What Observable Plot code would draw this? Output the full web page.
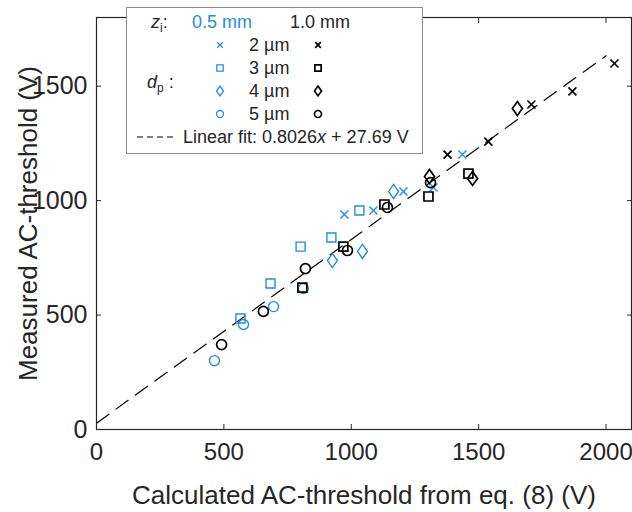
<!DOCTYPE html>
<html><head><meta charset="utf-8">
<script src="https://cdn.jsdelivr.net/npm/d3@7"></script>
<script src="https://cdn.jsdelivr.net/npm/@observablehq/plot@0.6"></script>
<style>body{margin:0;background:#fff} #chart{width:632px;height:512px}</style>
</head><body><div id="chart"></div><script>
// ---- data (calculated AC-threshold, measured AC-threshold), in V ----
const zLabels = ["0.5 mm", "1.0 mm"];
const dpLabels = ["2 µm", "3 µm", "4 µm", "5 µm"];

// z_i = 0.5 mm
const z05_d2_calc = [973, 1087, 1205, 1323, 1436];
const z05_d2_meas = [939, 957, 1040, 1057, 1201];
const z05_d3_calc = [565, 683, 801, 922, 1032];
const z05_d3_meas = [485, 638, 799, 839, 957];
const z05_d4_calc = [926, 1044, 1166];
const z05_d4_meas = [738, 778, 1040];
const z05_d5_calc = [463, 577, 695, 812];
const z05_d5_meas = [301, 459, 537, 616];
// z_i = 1.0 mm
const z10_d2_calc = [1378, 1538, 1707, 1868, 2033];
const z10_d2_meas = [1201, 1258, 1420, 1477, 1599];
const z10_d3_calc = [808, 969, 1130, 1303, 1460];
const z10_d3_meas = [620, 799, 983, 1018, 1118];
const z10_d4_calc = [1307, 1476, 1652];
const z10_d4_meas = [1105, 1097, 1402];
const z10_d5_calc = [491, 655, 820, 985, 1142, 1311];
const z10_d5_meas = [371, 516, 703, 782, 970, 1079];

// linear fit
const fitSlope = 0.8026;
const fitIntercept = 27.69;
const fitRange = [0, 2000];

const xTicks = [0, 500, 1000, 1500, 2000];
const yTicks = [0, 500, 1000, 1500];
const xLabel = "Calculated AC-threshold from eq. (8) (V)";
const yLabel = "Measured AC-threshold (V)";

// ---- styles ----
const FONT = "'Liberation Sans', Arial, sans-serif";
const TICKFONT = "'Liberation Sans Narrow', 'Liberation Sans', sans-serif";
const BLUE = "#1f8fdc";
const INK = "#262626";

const sym = {
  times: {draw(c, s) {const r = Math.sqrt(s / Math.PI) * 0.8; c.moveTo(-r, -r); c.lineTo(r, r); c.moveTo(-r, r); c.lineTo(r, -r);}},
  square: {draw(c, s) {const r = Math.sqrt(s / Math.PI) * 0.9; c.rect(-r, -r, 2 * r, 2 * r);}},
  diamond: {draw(c, s) {const r = Math.sqrt(s / Math.PI); c.moveTo(0, -1.4 * r); c.lineTo(r, 0); c.lineTo(0, 1.4 * r); c.lineTo(-r, 0); c.closePath();}},
  circle: {draw(c, s) {const r = Math.sqrt(s / Math.PI); c.moveTo(r, 0); c.arc(0, 0, r, 0, 2 * Math.PI);}}
};
const symOrder = [sym.times, sym.square, sym.diamond, sym.circle];

const series = [
  [z05_d2_calc, z05_d2_meas, 0, 0], [z05_d3_calc, z05_d3_meas, 0, 1],
  [z05_d4_calc, z05_d4_meas, 0, 2], [z05_d5_calc, z05_d5_meas, 0, 3],
  [z10_d2_calc, z10_d2_meas, 1, 0], [z10_d3_calc, z10_d3_meas, 1, 1],
  [z10_d4_calc, z10_d4_meas, 1, 2], [z10_d5_calc, z10_d5_meas, 1, 3]
];
const colors = [BLUE, "#000000"];

const dots = series.map(([cx, my, zi, di]) =>
  Plot.dot(cx.map((c, i) => ({calc: c, meas: my[i]})), {
    x: "calc", y: "meas", r: 5, symbol: symOrder[di], fill: "none",
    stroke: colors[zi], strokeWidth: zi === 0 ? 1.4 : 1.7
  })
);

const fitPts = fitRange.map(x => ({x, y: fitSlope * x + fitIntercept}));
const fmt = d => String(d);

const chart = Plot.plot({
  width: 632, height: 512,
  marginLeft: 96, marginRight: 1, marginTop: 17, marginBottom: 83,
  style: {fontFamily: FONT, fontSize: "22px", color: INK, background: "white"},
  x: {domain: [0, 2100]},
  y: {domain: [0, 1800]},
  marks: [
    Plot.line(fitPts, {x: "x", y: "y", stroke: "#000", strokeWidth: 1.2, strokeDasharray: "15,9"}),
    ...dots,
    Plot.frame({stroke: INK, strokeWidth: 1.2}),
    Plot.axisX(xTicks, {anchor: "bottom", tickSize: -5, fill: "none", label: null, stroke: INK}),
    Plot.axisX(xTicks, {anchor: "top", tickSize: -5, fill: "none", label: null, stroke: INK}),
    Plot.axisY(yTicks, {anchor: "left", tickSize: -5, fill: "none", label: null, stroke: INK}),
    Plot.axisY(yTicks, {anchor: "right", tickSize: -5, fill: "none", label: null, stroke: INK}),
    Plot.axisX(xTicks, {anchor: "bottom", tickSize: 0, tickPadding: 13, label: null, tickFormat: fmt, fontSize: 24, fontFamily: TICKFONT, fill: INK}),
    Plot.axisY(yTicks, {anchor: "left", tickSize: 0, tickPadding: 9, label: null, tickFormat: fmt, fontSize: 25, fontFamily: TICKFONT, fill: INK}),
    Plot.text([xLabel], {text: d => d, frameAnchor: "bottom", textAnchor: "middle", lineAnchor: "middle", dy: 66, fontSize: 26, fill: INK}),
    Plot.text([yLabel], {text: d => d, frameAnchor: "left", textAnchor: "middle", lineAnchor: "middle", dx: -68, rotate: -90, fontSize: 26, fill: INK})
  ]
});
document.getElementById("chart").appendChild(chart);

// ---- legend ----
const svg = d3.select(chart);
const g = svg.append("g").attr("font-family", FONT).attr("font-size", 18)
  .attr("fill", INK).attr("text-anchor", "start");
g.append("rect").attr("x", 126.5).attr("y", 7.5).attr("width", 296).attr("height", 146)
  .attr("fill", "white").attr("stroke", "#8c8c8c").attr("stroke-width", 1);

const zt = g.append("text").attr("x", 151).attr("y", 22).attr("dy", "0.35em");
zt.append("tspan").attr("font-style", "italic").text("z");
zt.append("tspan").attr("font-size", 12).attr("dy", 4).text("i");
zt.append("tspan").attr("dy", -4).text(":");
g.append("text").attr("x", 192).attr("y", 22).attr("dy", "0.35em").attr("fill", BLUE).text(zLabels[0]);
g.append("text").attr("x", 290).attr("y", 22).attr("dy", "0.35em").text(zLabels[1]);

const dt = g.append("text").attr("x", 147).attr("y", 82).attr("dy", "0.35em");
dt.append("tspan").attr("font-style", "italic").text("d");
dt.append("tspan").attr("font-size", 12).attr("dy", 4).text("p");
dt.append("tspan").attr("dy", -4).text(" :");

const rowY = [45, 68, 91, 114];
dpLabels.forEach((lab, i) => {
  const y = rowY[i];
  g.append("path").attr("d", d3.symbol(symOrder[i], Math.PI * 3.5 * 3.5)())
    .attr("transform", `translate(220,${y})`).attr("fill", "none").attr("stroke", BLUE).attr("stroke-width", 1.3);
  g.append("text").attr("x", 249).attr("y", y).attr("dy", "0.35em").text(lab);
  g.append("path").attr("d", d3.symbol(symOrder[i], Math.PI * 3.5 * 3.5)())
    .attr("transform", `translate(318,${y})`).attr("fill", "none").attr("stroke", "#000").attr("stroke-width", 1.7);
});

g.append("line").attr("x1", 137).attr("x2", 176).attr("y1", 137).attr("y2", 137)
  .attr("stroke", "#000").attr("stroke-width", 1.2).attr("stroke-dasharray", "6,4");
const ft = g.append("text").attr("x", 183).attr("y", 137).attr("dy", "0.35em");
ft.append("tspan").text(`Linear fit: ${fitSlope}`);
ft.append("tspan").attr("font-style", "italic").text("x");
ft.append("tspan").text(` + ${fitIntercept} V`);
</script></body></html>
